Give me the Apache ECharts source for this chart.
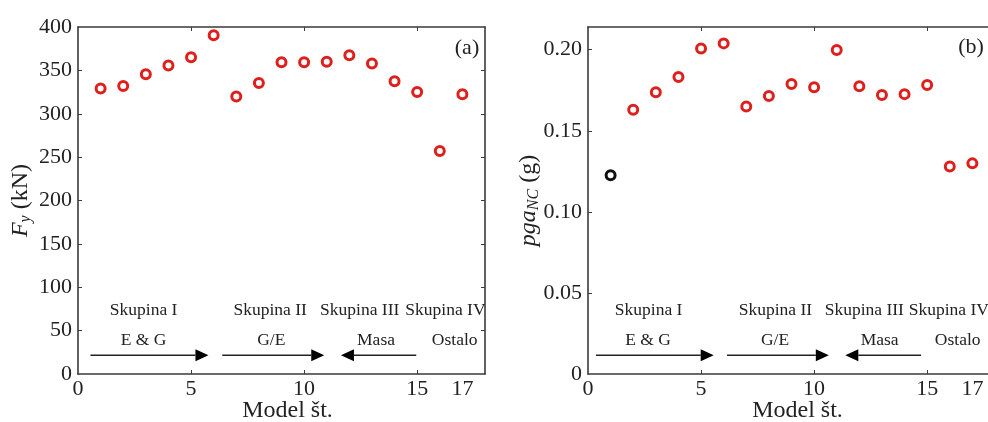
<!DOCTYPE html>
<html>
<head>
<meta charset="utf-8">
<script src="https://cdn.jsdelivr.net/npm/echarts@6.0.0/dist/echarts.min.js"></script>
<style>
html, body { margin: 0; padding: 0; background: #fff; }
#main { width: 988px; height: 422px; }
</style>
</head>
<body>
<div id="main"></div>
<script>
// model numbers on x
var modelNo = [1, 2, 3, 4, 5, 6, 7, 8, 9, 10, 11, 12, 13, 14, 15, 16, 17];
// (a) yield force Fy in kN
var fyValues = [329, 332, 345.5, 355.5, 365, 390.5, 320, 335.5, 359.5, 359.5, 360, 367.5, 358, 337.5, 325, 257, 322.5];
// (b) pga_NC in g, model 1 drawn black, rest red
var pgaFirst = [1, 0.1225];
var pgaValues = [null, 0.163, 0.1737, 0.1831, 0.2008, 0.2039, 0.165, 0.1714, 0.1788, 0.1768, 0.1998, 0.1774, 0.172, 0.1726, 0.1783, 0.1279, 0.1299];

var xLabels = [0, 5, 10, 15, 17];
var xTicks = [5, 10, 15];
var fyLabels = [0, 50, 100, 150, 200, 250, 300, 350, 400];
var pgaLabels = [0, 0.05, 0.10, 0.15, 0.20];

// group annotations: [x, y, text]
var textA = [
    [2.9, 73, 'Skupina I'], [2.9, 38.4, 'E & G'],
    [8.5, 73, 'Skupina II'], [8.55, 38.4, 'G/E'],
    [12.46, 73, 'Skupina III'], [13.18, 38.4, 'Masa'],
    [16.25, 73, 'Skupina IV'], [16.66, 38.4, 'Ostalo']
];
var textB = [
    [2.68, 0.039, 'Skupina I'], [2.66, 0.0205, 'E & G'],
    [8.29, 0.039, 'Skupina II'], [8.27, 0.0205, 'G/E'],
    [12.22, 0.039, 'Skupina III'], [12.9, 0.0205, 'Masa'],
    [15.96, 0.039, 'Skupina IV'], [16.35, 0.0205, 'Ostalo']
];
// arrows: [xStart, xEnd, y]
var arrowsA = [[0.55, 5.77, 21.5], [6.38, 10.89, 21.5], [14.96, 11.63, 21.5]];
var arrowsB = [[0.35, 5.56, 0.0115], [6.15, 10.65, 0.0115], [14.73, 11.38, 0.0115]];

var FONT = 'Liberation Serif';
var RED = '#de1f1c';
var LINE = '#3a3a3a';

var chart = echarts.init(document.getElementById('main'));

function pairs(xs, ys) {
    var out = [];
    xs.forEach(function(x, i) {
        if (ys[i] != null) out.push([x, ys[i]]);
    });
    return out;
}

function xAxisPair(gridIndex) {
    var base = {
        type: 'value',
        gridIndex: gridIndex,
        min: 0,
        max: 18,
        interval: 1,
        splitLine: { show: false },
        axisLine: { show: true, onZero: false, lineStyle: { color: LINE, width: 1.6 } },
        axisTick: { show: true, inside: true, length: 4, customValues: xTicks, lineStyle: { color: LINE } }
    };
    var bottom = echarts.util.merge({
        position: 'bottom',
        name: 'Model št.',
        nameLocation: 'middle',
        nameGap: 25,
        nameMoveOverlap: false,
        nameTextStyle: { fontFamily: FONT, fontSize: 24, color: '#222', padding: [0, 0, 0, 12] },
        axisLabel: { show: true, customValues: xLabels, margin: 4, fontFamily: FONT, fontSize: 22, color: '#222' }
    }, base, true);
    var top = echarts.util.merge({
        position: 'top',
        axisLabel: { show: false }
    }, base, true);
    return [bottom, top];
}

function yAxisPair(gridIndex, max, labels, ticks, fmt, name, gap) {
    var base = {
        type: 'value',
        gridIndex: gridIndex,
        min: 0,
        max: max,
        splitLine: { show: false },
        axisLine: { show: true, onZero: false, lineStyle: { color: LINE, width: 1.6 } },
        axisTick: { show: true, inside: true, length: 4, customValues: ticks, lineStyle: { color: LINE } }
    };
    var left = echarts.util.merge({
        position: 'left',
        name: name,
        nameLocation: 'middle',
        nameRotate: 90,
        nameGap: gap,
        nameMoveOverlap: false,
        nameTextStyle: {
            fontFamily: FONT, fontSize: 24, color: '#222',
            rich: {
                i: { fontFamily: FONT, fontSize: 24, fontStyle: 'italic', color: '#222' },
                s: { fontFamily: FONT, fontSize: 16, fontStyle: 'italic', color: '#222', padding: [10, 0, 0, 0] }
            }
        },
        axisLabel: { show: true, customValues: labels, margin: 6, fontFamily: FONT, fontSize: 22, color: '#222', formatter: fmt }
    }, base, true);
    var right = echarts.util.merge({
        position: 'right',
        axisLabel: { show: false }
    }, base, true);
    return [left, right];
}

function textSeries(xi, yi, items) {
    return {
        type: 'custom',
        xAxisIndex: xi,
        yAxisIndex: yi,
        silent: true,
        encode: { x: 0, y: 1 },
        data: items.map(function(d) { return [d[0], d[1]]; }),
        renderItem: function(params, api) {
            var p = api.coord([api.value(0), api.value(1)]);
            var cs = params.coordSys;
            return {
                type: 'group',
                clipPath: { type: 'rect', shape: { x: cs.x, y: cs.y, width: cs.width, height: cs.height } },
                children: [{
                    type: 'text',
                    style: {
                        x: p[0], y: p[1],
                        text: items[params.dataIndex][2],
                        font: '17.5px "' + FONT + '"',
                        fill: '#222',
                        align: 'center',
                        verticalAlign: 'middle'
                    }
                }]
            };
        }
    };
}

function arrowSeries(xi, yi, items) {
    return {
        type: 'custom',
        xAxisIndex: xi,
        yAxisIndex: yi,
        silent: true,
        encode: { x: [0, 1], y: 2 },
        data: items,
        renderItem: function(params, api) {
            var p0 = api.coord([api.value(0), api.value(2)]);
            var p1 = api.coord([api.value(1), api.value(2)]);
            var dir = p1[0] > p0[0] ? 1 : -1;
            var hl = 13, hw = 6;
            return {
                type: 'group',
                children: [{
                    type: 'line',
                    shape: { x1: p0[0], y1: p0[1], x2: p1[0] - dir * hl, y2: p1[1] },
                    style: { stroke: '#222', lineWidth: 1.5 }
                }, {
                    type: 'polygon',
                    shape: { points: [[p1[0], p1[1]], [p1[0] - dir * hl, p1[1] - hw], [p1[0] - dir * hl, p1[1] + hw]] },
                    style: { fill: '#000' }
                }]
            };
        }
    };
}

var circle = function(color) {
    return {
        type: 'scatter',
        symbol: 'circle',
        symbolSize: 9,
        itemStyle: { color: 'rgba(0,0,0,0)', borderColor: color, borderWidth: 3, opacity: 1 },
        emphasis: { disabled: true }
    };
};

var xa = xAxisPair(0), xb = xAxisPair(1);
var ya = yAxisPair(0, 400, fyLabels, [50, 100, 150, 200, 250, 300, 350],
    function(v) { return String(v); }, '{i|F}{s|y} (kN)', 44);
var yb = yAxisPair(1, 0.214, pgaLabels, [0.05, 0.10, 0.15, 0.20],
    function(v) { return v === 0 ? '0' : v.toFixed(2); }, '{i|pga}{s|NC} (g)', 46);

var option = {
    animation: false,
    grid: [
        { left: 78, top: 27, width: 407, height: 347, outerBoundsMode: 'none' },
        { left: 588, top: 27, width: 407, height: 347, outerBoundsMode: 'none' }
    ],
    xAxis: [xa[0], xa[1], xb[0], xb[1]],
    yAxis: [ya[0], ya[1], yb[0], yb[1]],
    graphic: [
        { type: 'text', x: 467, y: 48, style: { text: '(a)', font: '22px "' + FONT + '"', fill: '#222', align: 'center', verticalAlign: 'middle' } },
        { type: 'text', x: 971, y: 47, style: { text: '(b)', font: '22px "' + FONT + '"', fill: '#222', align: 'center', verticalAlign: 'middle' } }
    ],
    series: [
        echarts.util.merge({ xAxisIndex: 0, yAxisIndex: 0, data: pairs(modelNo, fyValues) }, circle(RED)),
        echarts.util.merge({ xAxisIndex: 2, yAxisIndex: 2, data: pairs(modelNo, pgaValues) }, circle(RED)),
        echarts.util.merge({ xAxisIndex: 2, yAxisIndex: 2, data: [pgaFirst] }, circle('#111')),
        textSeries(0, 0, textA),
        textSeries(2, 2, textB),
        arrowSeries(0, 0, arrowsA),
        arrowSeries(2, 2, arrowsB)
    ]
};
chart.setOption(option);
</script>
</body>
</html>
